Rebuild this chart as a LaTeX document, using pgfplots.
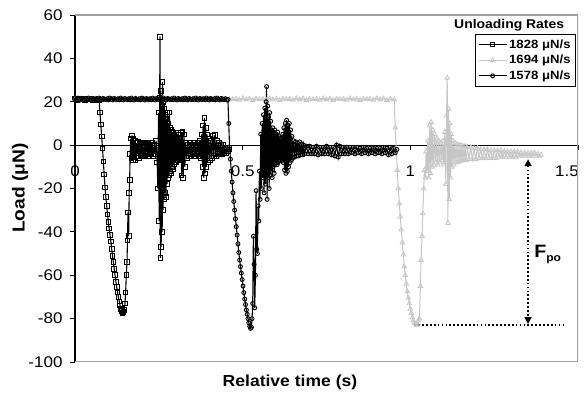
\documentclass[border=0pt]{standalone}
\usepackage{fontspec}
\setmainfont{Liberation Sans}[FakeStretch=1.1]
\usepackage{pgfplots}
\pgfplotsset{compat=1.18}
\usetikzlibrary{arrows.meta}
\definecolor{trigray}{RGB}{198,198,198}
\definecolor{framegray}{RGB}{160,160,160}

\begin{document}
\begin{tikzpicture}
\path[use as bounding box] (0,0) rectangle (587bp,402bp);
\begin{axis}[
  at={(75bp,40bp)}, anchor=south west,
  scale only axis, width=503bp, height=347bp,
  xmin=0, xmax=1.5, ymin=-100, ymax=60,
  axis x line*=middle, axis y line*=left,
  hide obscured x ticks=false, hide obscured y ticks=false,
  xtick={0,0.5,1,1.5}, xticklabels={0,0.5,1,\hspace*{-22bp}1.5},
  ytick={-100,-80,-60,-40,-20,0,20,40,60},
  yticklabels={-100,-80,-60,-40,-20,0,20,40,60},
  tick align=outside, major tick length=5bp,
  tick style={black, line width=0.9bp},
  axis line style={black, line width=1.1bp},
  ticklabel style={font=\fontsize{15.5}{18}\selectfont},
  xticklabel style={anchor=center, yshift=-21bp},
  yticklabel style={xshift=-4bp},
  xlabel={Relative time (s)}, ylabel={Load (μN)},
  label style={font=\fontsize{16}{19}\selectfont\bfseries},
  xlabel style={at={(axis description cs:0.4274,-0.0576)}, anchor=center},
  ylabel style={at={(axis description cs:-0.109,0.501)}, anchor=center, font=\fontsize{17.5}{20}\selectfont\bfseries},
  legend style={at={(axis cs:1.494,51.2)}, anchor=north east, draw=black,
    line width=0.8bp, fill=white, inner sep=3bp, row sep=1.5bp,
    font=\fontsize{12}{14}\selectfont\bfseries},
  legend cell align=left,
  legend image code/.code={\draw[mark repeat=2,mark phase=2,#1] plot coordinates {(0bp,0bp) (14bp,0bp) (28bp,0bp)};},
]
\draw[framegray, line width=1.3bp] (rel axis cs:0,1) -- (rel axis cs:1,1) -- (rel axis cs:1,0) -- (rel axis cs:0,0);

% 1828 uN/s
\addplot[black, line width=1.1bp, mark=square, mark size=2.3bp, mark options={line width=0.9bp}] coordinates {
(0.000,21.3) (0.006,20.9) (0.012,21.6) (0.018,21.1) (0.024,21.5) (0.030,20.8) (0.036,21.4) (0.042,21.0) (0.048,21.6) (0.054,20.9) (0.060,21.3) (0.066,21.0) (0.072,20.6)
(0.0745,15) (0.077,9.5) (0.0795,4) (0.082,-1.5) (0.0845,-7.5) (0.087,-13.5) (0.0895,-19.5) (0.092,-24) (0.0945,-28) (0.097,-32) (0.0995,-35.5) (0.102,-38.5) (0.1045,-41.5) (0.107,-44.5) (0.1095,-48) (0.112,-51) (0.1145,-54) (0.117,-57) (0.1195,-60) (0.122,-63) (0.1245,-65.5) (0.127,-68) (0.1295,-70) (0.132,-72) (0.1345,-74) (0.137,-75.5) (0.1395,-76.5) (0.142,-77.5) (0.1445,-77) (0.147,-76) (0.149,-73) (0.151,-68) (0.153,-60) (0.155,-54) (0.1565,-44) (0.158,-31) (0.160,-42) (0.1615,-22) (0.163,-16) (0.1645,-4) (0.166,3)
(0.168,-6) (0.170,4.5) (0.172,-7) (0.174,3) (0.176,-5.5) (0.178,2) (0.180,-7) (0.182,1) (0.185,-5) (0.188,1.5) (0.191,-6) (0.194,0.5) (0.197,-5) (0.200,1) (0.203,-4.5) (0.206,0) (0.209,-5) (0.212,1) (0.215,-4) (0.218,0.5) (0.221,-5) (0.224,0) (0.227,-4) (0.230,1) (0.233,-5) (0.236,0) (0.239,-4) (0.242,2) (0.245,-8)
(0.247,-20) (0.249,15) (0.251,-35) (0.2525,22) (0.2535,50) (0.2545,-52) (0.2555,25) (0.257,-47) (0.2585,18) (0.260,-40) (0.261,29) (0.2625,-30) (0.264,20) (0.2655,-25) (0.267,17) (0.2685,-22) (0.270,14) (0.2715,-24) (0.273,12) (0.2745,-18) (0.276,15) (0.2775,-15) (0.279,10) (0.2805,-14) (0.282,15) (0.2835,-12) (0.285,8) (0.2865,-13) (0.288,7) (0.2895,-10) (0.291,6) (0.2925,-11) (0.294,5.5) (0.2955,-9) (0.297,5) (0.2985,-8) (0.300,4) (0.3015,-8) (0.303,5.5) (0.3045,-7) (0.306,3) (0.3075,-7) (0.309,5) (0.3105,-6) (0.312,2) (0.314,-6) (0.316,5.5) (0.318,-14) (0.320,6) (0.3225,-15) (0.325,5) (0.3275,-10) (0.330,1) (0.333,-6) (0.336,0) (0.339,-5) (0.342,1) (0.345,-5) (0.348,0) (0.351,-4) (0.354,1) (0.357,-5) (0.360,0) (0.363,-4) (0.366,1) (0.369,-5) (0.372,2) (0.375,-6) (0.378,5) (0.380,-10) (0.382,9) (0.384,-15) (0.386,12.4) (0.388,-13) (0.390,8) (0.392,-10) (0.394,5) (0.396,-8) (0.399,3) (0.402,-7) (0.405,2) (0.408,-6) (0.411,4.5) (0.414,-5) (0.417,4.6) (0.420,-5) (0.423,2) (0.426,-4) (0.429,1) (0.432,-4) (0.435,0) (0.438,-4) (0.441,0) (0.444,-3.5) (0.447,-1) (0.450,-3.5) (0.453,-1) (0.456,-3) (0.459,-2)
};
\addlegendentry{1828 μN/s}

% 1694 uN/s
\addplot[trigray, line width=1bp, mark=triangle, mark size=2.6bp, mark options={line width=0.8bp}] coordinates {
(0.00,21.2) (0.01,20.8) (0.02,21.5) (0.03,21.0) (0.04,21.4) (0.05,20.7) (0.06,21.3) (0.07,21.1)
(0.08,21.2) (0.09,20.8) (0.10,21.5) (0.11,21.0) (0.12,21.4) (0.13,20.7) (0.14,21.3) (0.15,21.1)
(0.16,21.2) (0.17,20.8) (0.18,21.5) (0.19,21.0) (0.20,21.4) (0.21,20.7) (0.22,21.3) (0.23,21.1)
(0.24,21.2) (0.25,20.8) (0.26,21.5) (0.27,21.0) (0.28,21.4) (0.29,20.7) (0.30,21.3) (0.31,21.1)
(0.32,21.2) (0.33,20.8) (0.34,21.5) (0.35,21.0) (0.36,21.4) (0.37,20.7) (0.38,21.3) (0.39,21.1)
(0.40,21.2) (0.41,20.8) (0.42,21.5) (0.43,21.0) (0.44,21.4) (0.45,20.7) (0.46,21.3) (0.47,21.1)
(0.48,21.2) (0.49,20.8) (0.50,21.5) (0.51,21.0) (0.52,21.4) (0.53,20.7) (0.54,21.3) (0.55,21.1)
(0.56,21.2) (0.57,20.8) (0.58,21.5) (0.59,21.0) (0.60,21.4) (0.61,20.7) (0.62,21.3) (0.63,21.1)
(0.64,21.2) (0.65,20.8) (0.66,21.5) (0.67,21.0) (0.68,21.4) (0.69,20.7) (0.70,21.3) (0.71,21.1)
(0.72,21.2) (0.73,20.8) (0.74,21.5) (0.75,21.0) (0.76,21.4) (0.77,20.7) (0.78,21.3) (0.79,21.1)
(0.80,21.2) (0.81,20.8) (0.82,21.5) (0.83,21.0) (0.84,21.4) (0.85,20.7) (0.86,21.3) (0.87,21.1)
(0.88,21.2) (0.89,20.8) (0.90,21.5) (0.91,21.0) (0.92,21.4) (0.93,20.7) (0.94,21.3) (0.952,21.0)
(0.955,8) (0.958,-2) (0.961,-11.5) (0.964,-20) (0.967,-27) (0.970,-33) (0.973,-39) (0.976,-45) (0.979,-50.5) (0.982,-56) (0.985,-60) (0.988,-64) (0.991,-67.5) (0.994,-70.5) (0.997,-73) (1.000,-75.5) (1.003,-77.5) (1.006,-79.5) (1.009,-81) (1.012,-82) (1.015,-82.5) (1.018,-83) (1.021,-82.5) (1.024,-81)
(1.027,-80) (1.030,-65) (1.032,-53) (1.035,-42) (1.037,-31.5) (1.040,-20) (1.042,-11.5) (1.045,-15) (1.047,-3) (1.050,-12) (1.052,2) (1.055,-15) (1.057,9) (1.060,-13) (1.062,10.6) (1.065,-10) (1.067,7) (1.070,-9) (1.073,5) (1.076,-8) (1.079,3) (1.082,-9) (1.085,2) (1.088,-8) (1.091,1) (1.094,-7) (1.097,2) (1.100,-9) (1.103,6) (1.106,-18) (1.108,13.6) (1.110,31) (1.112,-36) (1.114,16.7) (1.116,-25) (1.118,10) (1.120,-15) (1.122,5) (1.124,-10) (1.127,2) (1.130,-9) (1.133,1) (1.136,-8) (1.139,0.5) (1.142,-8) (1.145,0) (1.148,-7.5) (1.151,0) (1.154,-7) (1.157,-0.5) (1.160,-7) (1.163,-0.5) (1.166,-7)
(1.170,-1) (1.175,-6.5) (1.180,-1) (1.185,-6.5) (1.190,-1.5) (1.195,-6.5) (1.200,-1.5) (1.205,-6) (1.210,-2) (1.215,-6) (1.220,-2) (1.225,-6) (1.230,-2) (1.235,-6) (1.240,-2.5) (1.245,-6) (1.250,-2.5) (1.255,-6) (1.260,-2.5) (1.265,-5.5) (1.270,-2.5) (1.275,-5.5) (1.280,-3) (1.285,-5.5) (1.290,-3) (1.295,-5.5) (1.300,-3) (1.305,-5.5) (1.310,-3) (1.315,-5.5) (1.320,-3) (1.325,-5) (1.330,-3.5) (1.335,-5) (1.340,-3.5) (1.345,-5) (1.350,-3.5) (1.355,-5) (1.360,-3.5) (1.365,-5) (1.370,-3.5) (1.375,-5) (1.380,-4) (1.385,-5) (1.390,-4.5)
};
\addlegendentry{1694 μN/s}

% 1578 uN/s
\addplot[black, line width=1.1bp, mark=o, mark size=2bp, mark options={line width=0.9bp}] coordinates {
(0.000,21.4) (0.004,20.9) (0.008,21.7) (0.012,21.1) (0.016,20.8) (0.020,21.5) (0.024,21.2) (0.028,21.0)
(0.032,21.4) (0.036,20.9) (0.040,21.7) (0.044,21.1) (0.048,20.8) (0.052,21.5) (0.056,21.2) (0.060,21.0)
(0.064,21.4) (0.068,20.9) (0.072,21.7) (0.076,21.1) (0.080,20.8) (0.084,21.5) (0.088,21.2) (0.092,21.0)
(0.096,21.4) (0.100,20.9) (0.104,21.7) (0.108,21.1) (0.112,20.8) (0.116,21.5) (0.120,21.2) (0.124,21.0)
(0.128,21.4) (0.132,20.9) (0.136,21.7) (0.140,21.1) (0.144,20.8) (0.148,21.5) (0.152,21.2) (0.156,21.0)
(0.160,21.4) (0.164,20.9) (0.168,21.7) (0.172,21.1) (0.176,20.8) (0.180,21.5) (0.184,21.2) (0.188,21.0)
(0.192,21.4) (0.196,20.9) (0.200,21.7) (0.204,21.1) (0.208,20.8) (0.212,21.5) (0.216,21.2) (0.220,21.0)
(0.224,21.4) (0.228,20.9) (0.232,21.7) (0.236,21.1) (0.240,20.8) (0.244,21.5) (0.248,21.2) (0.252,21.0)
(0.256,21.4) (0.260,20.9) (0.264,21.7) (0.268,21.1) (0.272,20.8) (0.276,21.5) (0.280,21.2) (0.284,21.0)
(0.288,21.4) (0.292,20.9) (0.296,21.7) (0.300,21.1) (0.304,20.8) (0.308,21.5) (0.312,21.2) (0.316,21.0)
(0.320,21.4) (0.324,20.9) (0.328,21.7) (0.332,21.1) (0.336,20.8) (0.340,21.5) (0.344,21.2) (0.348,21.0)
(0.352,21.4) (0.356,20.9) (0.360,21.7) (0.364,21.1) (0.368,20.8) (0.372,21.5) (0.376,21.2) (0.380,21.0)
(0.384,21.4) (0.388,20.9) (0.392,21.7) (0.396,21.1) (0.400,20.8) (0.404,21.5) (0.408,21.2) (0.412,21.0)
(0.416,21.4) (0.420,20.9) (0.424,21.7) (0.428,21.1) (0.432,20.8) (0.436,21.5) (0.440,21.2) (0.444,21.0)
(0.448,21.4) (0.452,20.9) (0.456,21.0)
(0.4585,10) (0.461,-1) (0.4635,-6.5) (0.466,-12) (0.4685,-17) (0.471,-22) (0.4735,-26) (0.476,-30) (0.4785,-34) (0.481,-37.6) (0.4835,-41.5) (0.486,-45.5) (0.4885,-49.5) (0.491,-53) (0.4935,-56) (0.496,-59) (0.4985,-62) (0.501,-65) (0.5035,-68) (0.506,-71) (0.5085,-73.5) (0.511,-76) (0.5135,-78) (0.516,-80) (0.5185,-82) (0.521,-83.5) (0.5235,-84.5) (0.526,-84)
(0.528,-80) (0.530,-73) (0.532,-42) (0.534,-55) (0.536,-75) (0.538,-60) (0.540,-21) (0.542,-48) (0.544,-50) (0.546,-28) (0.548,-35) (0.550,-12) (0.552,-25) (0.554,5) (0.556,-20) (0.558,10) (0.560,-15) (0.562,14) (0.564,-22) (0.566,17) (0.568,-18) (0.570,20) (0.5715,27) (0.573,-25) (0.5745,18) (0.576,-15) (0.5775,13) (0.579,-20) (0.5805,15) (0.582,-14) (0.5835,11) (0.585,-12) (0.5865,7) (0.588,-15) (0.5895,8) (0.591,-10) (0.5925,6) (0.594,-13) (0.5955,7) (0.597,-9) (0.5985,5) (0.600,-8) (0.6015,4) (0.603,-9) (0.6045,6) (0.606,-8) (0.6075,4) (0.609,-7) (0.6105,3) (0.612,-7) (0.6135,2) (0.615,-6) (0.6165,3) (0.618,-7) (0.6195,5) (0.621,-8) (0.623,8) (0.625,-11.5) (0.627,10) (0.629,-13) (0.631,11.5) (0.633,-12) (0.635,9) (0.637,-10) (0.639,10) (0.641,-8) (0.643,7) (0.645,-7) (0.647,4) (0.649,-6) (0.652,2) (0.655,-5.5) (0.658,1.5) (0.661,-5) (0.664,1) (0.667,-5) (0.670,1.5) (0.673,-4.5) (0.676,0.5) (0.679,-4.5) (0.682,0) (0.685,-4)
(0.690,-0.5) (0.695,-4) (0.700,-0.5) (0.705,-4) (0.710,-1) (0.715,-4) (0.720,-0.5) (0.725,-4.5) (0.730,-1) (0.735,-4) (0.740,-1) (0.745,-4) (0.750,-0.5) (0.755,-4) (0.760,-1) (0.765,-4.5) (0.770,-1) (0.775,-5) (0.780,0) (0.785,-5.5) (0.790,-0.5) (0.795,-4) (0.800,-1) (0.805,-4) (0.810,-1) (0.815,-4) (0.820,-1) (0.825,-3.5) (0.830,-1) (0.835,-4) (0.840,-1) (0.845,-3.5) (0.850,-1.5) (0.855,-4) (0.860,-1) (0.865,-3.5) (0.870,-1.5) (0.875,-4) (0.880,-1.5) (0.885,-3.5) (0.890,-1.5) (0.895,-4) (0.900,-1.5) (0.905,-3.5) (0.910,-1.5) (0.915,-4) (0.920,-1) (0.925,-3.5) (0.930,-1.5) (0.935,-4.5) (0.940,-1) (0.945,-4) (0.950,-1.5) (0.955,-3.5) (0.960,-2)
};
\addlegendentry{1578 μN/s}

% F_po annotation
\addplot[black, line width=1.7bp, dash pattern=on 1.7bp off 2.2bp, forget plot] coordinates {(1.012,-83) (1.458,-83)};
\draw[black, line width=1.7bp, dash pattern=on 1.7bp off 2.2bp, {Triangle[width=7bp,length=7bp]}-{Triangle[width=7bp,length=7bp]}] (axis cs:1.351,-6.5) -- (axis cs:1.351,-82.5);
\node[anchor=base west, inner sep=0pt, font=\fontsize{18}{20}\selectfont\bfseries] at (axis cs:1.369,-51.6) {F\raisebox{-4bp}{\fontsize{11}{12}\selectfont\bfseries po}};
\node[font=\fontsize{12.7}{15}\selectfont\bfseries] at (axis cs:1.2946,55.3) {Unloading Rates};
\end{axis}
\end{tikzpicture}
\end{document}
